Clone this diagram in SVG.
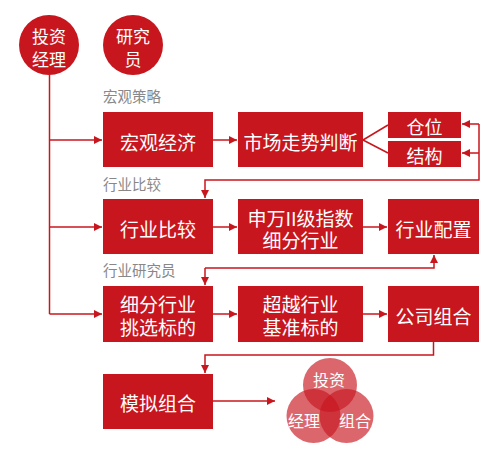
<svg xmlns="http://www.w3.org/2000/svg" width="502" height="462" viewBox="0 0 502 462">
<defs>
<marker id="ah" viewBox="0 0 10 10" refX="10" refY="5" markerWidth="8" markerHeight="8" markerUnits="userSpaceOnUse" orient="auto">
<path d="M0,0 L10,5 L0,10 Z" fill="#C8161E"/>
</marker>
<style>
.box{fill:#C8161E;}
.t{fill:#fff;font-family:"Noto Sans CJK SC","Noto Sans",sans-serif;font-size:19px;text-anchor:middle;dominant-baseline:central;}
.ts{font-size:18px;}
.tc{font-size:17px;}
.lbl{fill:#888;font-family:"Noto Sans CJK SC","Noto Sans",sans-serif;font-size:14.5px;}
.c{fill:none;stroke:#C8161E;stroke-width:1.5;}
.v{fill:#C8161E;fill-opacity:0.65;}
.vt{fill:#fff;font-family:"Noto Sans CJK SC","Noto Sans",sans-serif;font-size:16px;text-anchor:middle;dominant-baseline:central;}
</style>
</defs>
<rect width="502" height="462" fill="#fff"/>

<g id="connectors">
<path class="c" d="M49.5,75 V314"/>
<path class="c" d="M49.5,140 H102" marker-end="url(#ah)"/>
<path class="c" d="M49.5,227 H102" marker-end="url(#ah)"/>
<path class="c" d="M49.5,314 H102" marker-end="url(#ah)"/>
<path class="c" d="M213,140 H237" marker-end="url(#ah)"/>
<path class="c" d="M363,140 L388,125 M363,140 L388,153"/>
<path class="c" d="M479,124 V180 H205 V198" marker-end="url(#ah)"/>
<path class="c" d="M479,124 H462" marker-end="url(#ah)"/>
<path class="c" d="M479,153 H462" marker-end="url(#ah)"/>
<path class="c" d="M213,227 H237" marker-end="url(#ah)"/>
<path class="c" d="M363,227 H387" marker-end="url(#ah)"/>
<path class="c" d="M205,268 H434 V255" marker-end="url(#ah)"/>
<path class="c" d="M205,268 V285" marker-end="url(#ah)"/>
<path class="c" d="M213,314 H237" marker-end="url(#ah)"/>
<path class="c" d="M363,314 H387" marker-end="url(#ah)"/>
<path class="c" d="M433.5,342 V355 H205 V373" marker-end="url(#ah)"/>
<path class="c" d="M213,401 H275" marker-end="url(#ah)"/>
</g>

<g id="manager">
<circle cx="49" cy="45" r="30" fill="#C8161E"/>
<text class="t tc" x="49" y="35.5">投资<tspan x="49" dy="22">经理</tspan></text>
</g>
<g id="researcher">
<circle cx="133" cy="45" r="30" fill="#C8161E"/>
<text class="t tc" x="133" y="35.5">研究<tspan x="133" dy="22">员</tspan></text>
</g>

<text class="lbl" x="103" y="102">宏观策略</text>
<text class="lbl" x="103" y="190">行业比较</text>
<text class="lbl" x="103" y="276">行业研究员</text>

<g id="macro">
<rect class="box" x="103" y="112" width="110" height="55"/>
<text class="t" x="158" y="141">宏观经济</text>
</g>
<g id="market">
<rect class="box" x="238" y="112" width="125" height="55"/>
<text class="t" x="300.5" y="141">市场走势判断</text>
</g>
<g id="position">
<rect class="box" x="388" y="112" width="73" height="26"/>
<text class="t ts" x="424.5" y="125.5">仓位</text>
</g>
<g id="structure">
<rect class="box" x="388" y="141" width="73" height="26"/>
<text class="t ts" x="424.5" y="154.5">结构</text>
</g>

<g id="industry-compare">
<rect class="box" x="103" y="199" width="110" height="55"/>
<text class="t" x="158" y="228.5">行业比较</text>
</g>
<g id="sw-index">
<rect class="box" x="238" y="199" width="125" height="55"/>
<text class="t" x="300.5" y="217.5">申万II级指数<tspan x="300.5" dy="21.5">细分行业</tspan></text>
</g>
<g id="industry-alloc">
<rect class="box" x="388" y="199" width="91" height="55"/>
<text class="t" x="433.5" y="228.5">行业配置</text>
</g>

<g id="pick">
<rect class="box" x="103" y="286" width="110" height="56"/>
<text class="t" x="158" y="303.5">细分行业<tspan x="158" dy="22">挑选标的</tspan></text>
</g>
<g id="beat">
<rect class="box" x="238" y="286" width="125" height="56"/>
<text class="t" x="300.5" y="303.5">超越行业<tspan x="300.5" dy="22">基准标的</tspan></text>
</g>
<g id="company">
<rect class="box" x="388" y="286" width="91" height="56"/>
<text class="t" x="433.5" y="315">公司组合</text>
</g>

<g id="simulate">
<rect class="box" x="103" y="374" width="110" height="55"/>
<text class="t" x="158" y="402.5">模拟组合</text>
</g>

<g id="venn">
<circle class="v" cx="330" cy="385" r="27"/>
<circle class="v" cx="313.5" cy="416" r="27"/>
<circle class="v" cx="346.5" cy="416" r="27"/>
<text class="vt" x="329" y="378.5">投资</text>
<text class="vt" x="304" y="420">经理</text>
<text class="vt" x="355" y="420">组合</text>
</g>
</svg>
